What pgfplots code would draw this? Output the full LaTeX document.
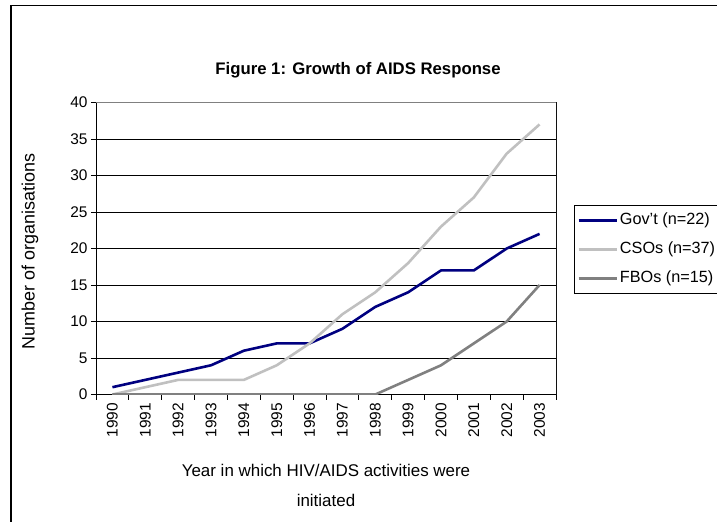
\documentclass[border=0pt]{standalone}
\usepackage{fontspec}
\setmainfont{Liberation Sans}
\usepackage{pgfplots}
\pgfplotsset{compat=1.18}
\definecolor{govt}{RGB}{0,0,128}
\definecolor{cso}{RGB}{192,192,192}
\definecolor{fbo}{RGB}{128,128,128}
\begin{document}
\begin{tikzpicture}
\begin{axis}[
  at={(0,0)}, anchor=south west,
  scale only axis, width=460bp, height=292bp,
  xmin=-0.5, xmax=13.5, ymin=0, ymax=40,
  xtick={0,...,13},
  xticklabels={1990,1991,1992,1993,1994,1995,1996,1997,1998,1999,2000,2001,2002,2003},
  major x tick style={draw=none},
  minor xtick={-0.5,0.5,...,13.5},
  ytick={0,5,...,40},
  tick align=outside, tick pos=left,
  major tick length=5bp, minor tick length=5bp,
  tick style={black, line width=0.8bp},
  /pgf/number format/assume math mode=true,
  x tick label style={rotate=90, anchor=east, font=\fontsize{15.5}{18}\selectfont},
  y tick label style={font=\fontsize{15.5}{18}\selectfont},
  ymajorgrids, grid style={black, line width=0.7bp},
  axis line style={black, line width=0.9bp},
  title={\bfseries Figure 1: Growth of AIDS Response},
  title style={at={(rel axis cs:0.5696,1.0906)}, anchor=center, font=\fontsize{16.8}{20}\selectfont},
  xlabel={Year in which HIV/AIDS activities were\\initiated},
  every axis x label/.style={at={(rel axis cs:0.5,0)}, yshift=-91bp, anchor=center, align=center, font=\fontsize{17}{30}\selectfont},
  ylabel={Number of organisations},
  every axis y label/.style={at={(rel axis cs:0,0.49)}, xshift=-66bp, rotate=90, anchor=center, font=\fontsize{18}{21}\selectfont},
  legend style={at={(rel axis cs:1.039,0.649)}, anchor=north west, draw=black, line width=0.8bp,
    inner xsep=3bp, inner ysep=5.5bp, font=\fontsize{16.3}{19}\selectfont, row sep=10bp,
    nodes={inner sep=2bp, text height=11.5bp, text depth=3.5bp}},
  legend cell align=left,
  legend image code/.code={\draw[#1] (0bp,0bp) -- (38bp,0bp);},
  every axis plot/.append style={line width=2.6bp, line join=round, no marks},
]
\addplot[govt] coordinates {(0,1) (1,2) (2,3) (3,4) (4,6) (5,7) (6,7) (7,9) (8,12) (9,14) (10,17) (11,17) (12,20) (13,22)};
\addlegendentry{Gov't (n=22)}
\addplot[cso] coordinates {(0,0) (1,1) (2,2) (3,2) (4,2) (5,4) (6,7) (7,11) (8,14) (9,18) (10,23) (11,27) (12,33) (13,37)};
\addlegendentry{CSOs (n=37)}
\addplot[fbo] coordinates {(0,0) (1,0) (2,0) (3,0) (4,0) (5,0) (6,0) (7,0) (8,0) (9,2) (10,4) (11,7) (12,10) (13,15)};
\addlegendentry{FBOs (n=15)}
\draw[fbo, line width=0.9bp] (rel axis cs:0,1) -- (rel axis cs:1,1) -- (rel axis cs:1,0);
\end{axis}
\draw[black, line width=1.3bp] (-85bp,-140bp) -- (-85bp,389bp) -- (640bp,389bp);
\pgfresetboundingbox
\useasboundingbox (-96bp,-127.5bp) rectangle (621bp,394.5bp);
\end{tikzpicture}
\end{document}
